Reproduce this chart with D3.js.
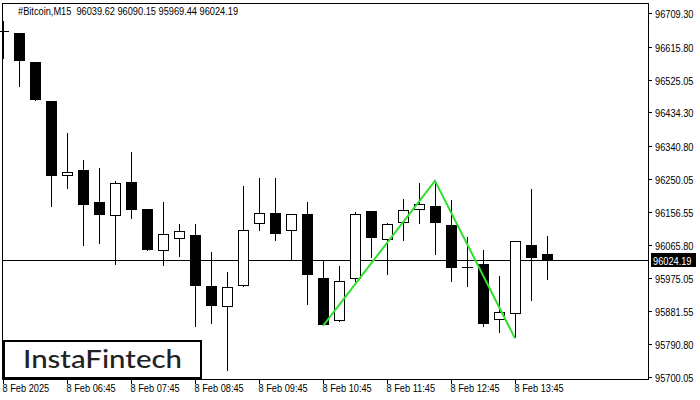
<!DOCTYPE html>
<html><head><meta charset="utf-8">
<script src="https://cdn.jsdelivr.net/npm/d3@7"></script>
<style>body{margin:0;background:#fff} svg{display:block}</style>
</head><body>
<svg id="c" width="700" height="400"></svg>
<script>
const titleText = "#Bitcoin,M15  96039.62 96090.15 95969.44 96024.19";
const opens  = [96660.0,96654.6,96574.0,96465.7,96256.5,96274.0,96185.1,96147.0,96240.6,96165.6,96048.1,96081.5,96092.6,95951.7,95892.6,95950.9,96123.2,96153.7,96103.7,96151.7,95974.0,95853.7,95970.4,96160.1,96080.4,96125.9,96162.0,96173.2,96121.2,96006.0,96012.9,95856.5,95873.1,96065.6,96039.62];
const highs  = [96687.9,96655.0,96575.0,96466.0,96375.9,96301.8,96279.5,96243.4,96324.0,96166.0,96185.1,96124.0,96124.0,96046.2,95990.6,96229.5,96251.8,96251.8,96151.5,96185.1,96022.0,96007.3,96158.2,96160.5,96127.6,96193.4,96237.9,96244.2,96190.7,96087.0,96051.8,95979.5,96077.0,96221.2,96090.15];
const lows   = [96581.5,96505.4,96467.0,96172.0,96222.0,96063.7,96068.4,96010.9,96138.7,96049.8,96008.1,96033.1,95838.7,95847.0,95716.4,95950.0,96105.4,96077.6,96022.0,95899.8,95843.0,95853.0,95963.7,96028.7,95982.3,96077.6,96124.0,96038.7,95963.7,95949.8,95838.7,95822.0,95806.5,95910.9,95969.44];
const closes = [96659.0,96577.6,96468.4,96258.2,96267.6,96177.6,96149.8,96237.0,96163.7,96052.6,96095.4,96103.7,95952.6,95897.0,95948.1,96106.5,96153.7,96097.0,96150.9,95983.1,95844.2,95965.6,96151.7,96085.9,96123.2,96162.0,96178.7,96127.6,96002.6,96005.0,95847.0,95878.7,96076.8,96030.4,96024.19];
const timeLabels = ["8 Feb 2025","8 Feb 06:45","8 Feb 07:45","8 Feb 08:45","8 Feb 09:45","8 Feb 10:45","8 Feb 11:45","8 Feb 12:45","8 Feb 13:45"];
const timeLabelIndex = [0,4,8,12,16,20,24,28,32];
const priceTicks = [96709.30,96615.80,96525.05,96434.30,96340.80,96250.05,96156.55,96065.80,95975.05,95881.55,95790.80,95700.05];
const lastPrice = 96024.19;
const patternIndex = [20,27,32];
const patternPrice = [95841.5,96244.2,95806.5];
const logoText = "InstaFintech";

const svg = d3.select("#c");
const plotL = 2, plotR = 648, plotT = 3, plotB = 379;
const font = "'Liberation Sans',Arial,sans-serif";
const sx = 0.84;
const n = opens.length;
const step = 16;
const x = d3.scaleLinear().domain([0, n - 1]).range([3, 3 + step * (n - 1)]);
const y = d3.scaleLinear().domain([d3.min(priceTicks), d3.max(priceTicks)]).range([376.7, 13.3]);

const candles = d3.range(n).map(i => ({i, o: opens[i], h: highs[i], l: lows[i], c: closes[i]}));

function label(parent, tx, ty, str, fill) {
  return parent.append("text")
    .attr("transform", `translate(${tx},${ty}) scale(${sx},1)`)
    .attr("font-family", font).attr("font-size", 11).attr("fill", fill || "#000")
    .style("white-space", "pre").text(str);
}

// frame
svg.append("rect").attr("x", plotL + 0.5).attr("y", plotT + 0.5)
  .attr("width", plotR - plotL).attr("height", plotB - plotT)
  .attr("fill", "none").attr("stroke", "#000").attr("stroke-width", 1);

// current price line
const yl = Math.round(y(lastPrice)) + 0.5;
svg.append("line").attr("x1", plotL).attr("x2", plotR).attr("y1", yl).attr("y2", yl)
  .attr("stroke", "#000").attr("stroke-width", 1);

const g = svg.append("g");
g.selectAll("line.wick").data(candles).join("line").attr("class", "wick")
  .attr("x1", d => Math.round(x(d.i)) + 0.5).attr("x2", d => Math.round(x(d.i)) + 0.5)
  .attr("y1", d => Math.round(y(d.h))).attr("y2", d => Math.round(y(d.l)))
  .attr("stroke", "#000").attr("stroke-width", 1);
g.selectAll("rect.body").data(candles).join("rect").attr("class", "body")
  .each(function(d) {
    const cx = Math.round(x(d.i));
    const top = Math.round(y(Math.max(d.o, d.c)));
    const bot = Math.round(y(Math.min(d.o, d.c)));
    const sel = d3.select(this);
    if (d.c < d.o) {
      sel.attr("x", cx - 5).attr("y", top).attr("width", 11).attr("height", Math.max(1, bot - top))
        .attr("fill", "#000");
    } else {
      sel.attr("x", cx - 4.5).attr("y", top + 0.5).attr("width", 10).attr("height", Math.max(0, bot - top - 1))
        .attr("fill", "#fff").attr("stroke", "#000").attr("stroke-width", 1);
    }
  });

// pattern line
const line = d3.line().x(d => x(d[0])).y(d => y(d[1]));
svg.append("path").datum(patternIndex.map((d, k) => [d, patternPrice[k]]))
  .attr("d", line).attr("fill", "none").attr("stroke", "#2ee02e").attr("stroke-width", 2);

// right axis
const ra = svg.append("g");
priceTicks.forEach(p => {
  const ty = Math.round(y(p)) + 0.5;
  ra.append("line").attr("x1", plotR + 0.5).attr("x2", plotR + 4).attr("y1", ty).attr("y2", ty)
    .attr("stroke", "#000");
  label(ra, 655, ty + 4, p.toFixed(2));
});
ra.append("rect").attr("x", 651).attr("y", yl - 7.5).attr("width", 45).attr("height", 14).attr("fill", "#000");
label(ra, 653, yl + 4, lastPrice.toFixed(2), "#fff");

// bottom axis
const ba = svg.append("g");
timeLabelIndex.forEach((idx, k) => {
  const tx = Math.round(x(idx)) + 0.5;
  ba.append("line").attr("x1", tx).attr("x2", tx).attr("y1", plotB).attr("y2", plotB + 5).attr("stroke", "#000");
  label(ba, tx - 1, 392, timeLabels[k]);
});

// title
label(svg, 18, 15, titleText);

// logo
svg.append("rect").attr("x", 4).attr("y", 341).attr("width", 197).attr("height", 37)
  .attr("fill", "#fff").attr("stroke", "#000").attr("stroke-width", 2);
svg.append("text").attr("x", 23).attr("y", 368).text(logoText)
  .attr("font-family", "Lato,'Open Sans',sans-serif").attr("font-size", 25).attr("font-weight", 500)
  .attr("fill", "#222").attr("textLength", 159).attr("lengthAdjust", "spacingAndGlyphs");
</script>
</body></html>
